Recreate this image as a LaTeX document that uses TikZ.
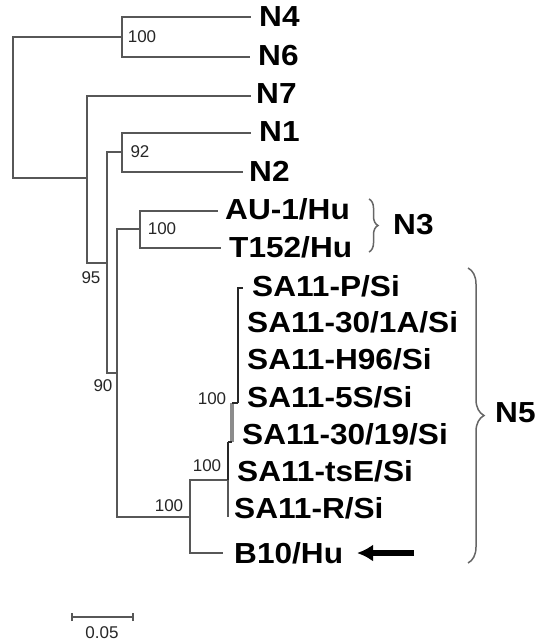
\documentclass[tikz,border=0pt]{standalone}
\usepackage{fontspec}
\setmainfont{Liberation Sans}
\newfontfamily\taxfont[FakeStretch=1.09]{Liberation Sans}
\usetikzlibrary{arrows.meta,decorations.pathreplacing}
\begin{document}
\begin{tikzpicture}[x=1pt,y=-1pt,
  branch/.style={draw=black!66,line width=2.5pt,line cap=rect},
  cluster/.style={draw=black!85,line width=2pt},
  taxon/.style={anchor=west,inner sep=0pt,font=\taxfont\fontsize{29}{29}\selectfont\bfseries},
  boot/.style={inner sep=0pt,font=\fontsize{17}{17}\selectfont,text=black!85},
  bracestyle/.style={draw=black!60,line width=1.5pt,decorate},
  grp/.style={anchor=west,inner sep=0pt,font=\taxfont\fontsize{29}{29}\selectfont\bfseries}]
\useasboundingbox (0,0) rectangle (540,642);
% internal nodes
\coordinate (root) at (13,107);
\coordinate (nA) at (122,37);
\coordinate (nB) at (87,178);
\coordinate (nC) at (107,263);
\coordinate (nD) at (122,152);
\coordinate (nE) at (117,373);
\coordinate (nF) at (140,229);
\coordinate (nG) at (190,517);
\coordinate (nH) at (228,480);
% tips
\coordinate (tN4) at (250,17);
\coordinate (tN6) at (249,57);
\coordinate (tN7) at (250,96);
\coordinate (tN1) at (250,133);
\coordinate (tN2) at (242,172);
\coordinate (tAU) at (217,211);
\coordinate (tT) at (220,248);
\coordinate (tB10) at (222,553);
% tree
\draw[branch] (nA) -| (root) |- (nB);
\draw[branch] (tN4) -| (nA) |- (tN6);
\draw[branch] (tN7) -| (nB) |- (nC);
\draw[branch] (nD) -| (nC) |- (nE);
\draw[branch] (tN1) -| (nD) |- (tN2);
\draw[branch] (nF) -| (nE) |- (nG);
\draw[branch] (tAU) -| (nF) |- (tT);
\draw[branch] (nH) -| (nG) |- (tB10);
% SA11 cluster (very short branches)
\coordinate (hTop) at (228,442);
\coordinate (hBot) at (228,517);
\coordinate (iTop) at (232,403);
\coordinate (iBot) at (232,442);
\coordinate (jTop) at (238,288);
\coordinate (jBot) at (238,403);
\coordinate (jTip) at (243,288);
\draw[cluster] (nH) -- (hTop);
\draw[branch,line cap=butt] (nH) -- (hBot);
\draw[draw=black!45,line width=4pt] (iTop) -- (iBot);
\draw[cluster] (hTop) -- (iBot);
\draw[cluster] (iTop) -- (jBot);
\draw[cluster] (jBot) -- (jTop) -- (jTip);
% taxon labels
\node[taxon] (lN4) at (259,17) {N4};
\node[taxon] (lN6) at (258,56) {N6};
\node[taxon] (lN7) at (256,94) {N7};
\node[taxon] (lN1) at (259,132) {N1};
\node[taxon] (lN2) at (249,171) {N2};
\node[taxon] (lAU) at (225,209) {AU-1/Hu};
\node[taxon] (lT) at (229,247) {T152/Hu};
\node[taxon] (lS1) at (252,286) {SA11-P/Si};
\node[taxon] (lS2) at (247,322) {SA11-30/1A/Si};
\node[taxon] (lS3) at (247,359) {SA11-H96/Si};
\node[taxon] (lS4) at (247,397) {SA11-5S/Si};
\node[taxon] (lS5) at (242,434) {SA11-30/19/Si};
\node[taxon] (lS6) at (237,471) {SA11-tsE/Si};
\node[taxon] (lS7) at (234,508) {SA11-R/Si};
\node[taxon] (lB10) at (234,553) {B10/Hu};
% arrow
\coordinate (arrS) at (414,553);
\coordinate (arrE) at (357,553);
\draw[line width=6pt,-{Latex[length=16pt,width=17pt]}] (arrS) -- (arrE);
% bootstrap values
\node[boot] (b1) at (142,37) {100};
\node[boot] (b2) at (140,152) {92};
\node[boot] (b3) at (162,229) {100};
\node[boot] (b4) at (91,278) {95};
\node[boot] (b5) at (103,386) {90};
\node[boot] (b6) at (212,399) {100};
\node[boot] (b7) at (207,466) {100};
\node[boot] (b8) at (169,506) {100};
% braces
\coordinate (bN3a) at (369,199);
\coordinate (bN3b) at (369,252);
\draw[bracestyle,decoration={brace,amplitude=9pt}] (bN3a) -- (bN3b);
\node[grp] (gN3) at (393,225) {N3};
\coordinate (bN5a) at (468,268);
\coordinate (bN5b) at (468,563);
\draw[bracestyle,decoration={brace,amplitude=16pt}] (bN5a) -- (bN5b);
\node[grp] (gN5) at (495,413) {N5};
% scale bar
\coordinate (sL) at (72,617);
\coordinate (sR) at (133,617);
\draw[draw=black!66,line width=2pt] (sL) -- (sR);
\draw[draw=black!66,line width=1.5pt] ([yshift=-4pt]sL) -- ([yshift=4pt]sL);
\draw[draw=black!66,line width=1.5pt] ([yshift=-4pt]sR) -- ([yshift=4pt]sR);
\node[boot] (sLab) at (102,633) {0.05};
\end{tikzpicture}
\end{document}
